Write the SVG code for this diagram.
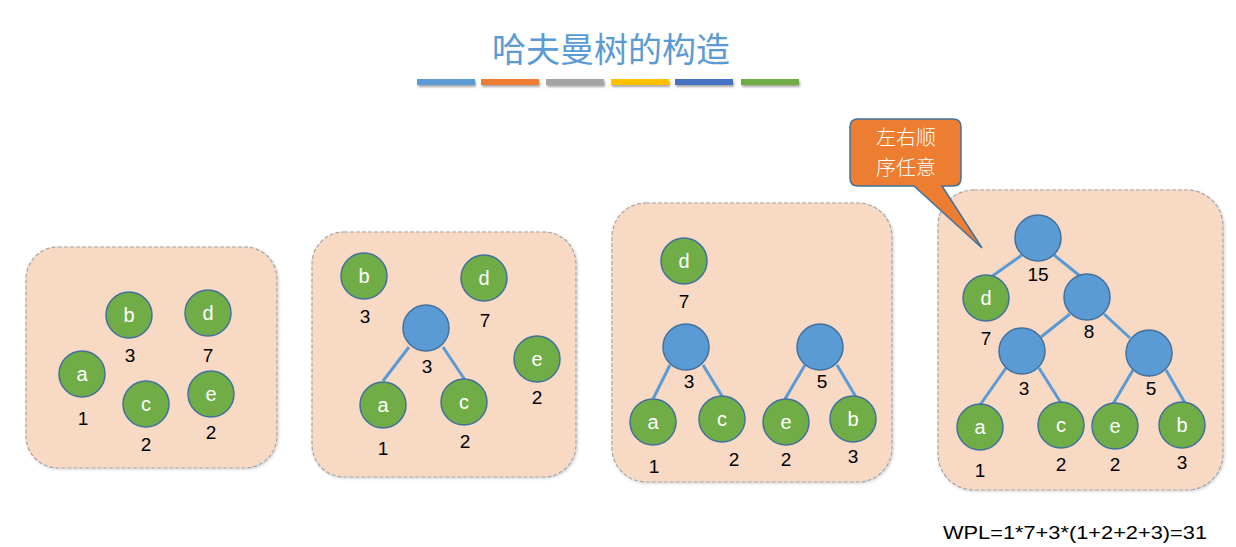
<svg xmlns="http://www.w3.org/2000/svg" width="1236" height="547" viewBox="0 0 1236 547">
<defs>
<filter id="sh" x="-10%" y="-50%" width="120%" height="250%"><feDropShadow dx="1" dy="2" stdDeviation="1.2" flood-color="#000" flood-opacity="0.35"/></filter>
<filter id="psh" x="-5%" y="-5%" width="110%" height="110%"><feDropShadow dx="1" dy="1" stdDeviation="1.5" flood-color="#000" flood-opacity="0.2"/></filter>
</defs>
<style>
.panel{fill:#F8D9C4;stroke:#A6A6A6;stroke-width:1.2;stroke-dasharray:4 2}
.g{fill:#70AD47;stroke:#41719C;stroke-width:1.5}
.b{fill:#5B9BD5;stroke:#41719C;stroke-width:1.5}
.lt{font-family:"Liberation Sans",Arial,sans-serif;font-size:20px;fill:#fff;text-anchor:middle;dominant-baseline:central}
.w{font-family:"Liberation Sans",Arial,sans-serif;font-size:19px;fill:#000;text-anchor:middle;dominant-baseline:central}
.e line{stroke:#5B9BD5;stroke-width:3}
.cj{font-family:"Noto Sans CJK SC",sans-serif;font-size:20px;font-weight:300;fill:#fff;text-anchor:middle}
</style>
<rect width="1236" height="547" fill="#fff"/>
<g id="title">
<text x="611" y="47" font-family="'Noto Sans CJK SC',sans-serif" font-size="34" fill="#5B9BD5" text-anchor="middle" dominant-baseline="central">哈夫曼树的构造</text>
<g filter="url(#sh)">
<rect x="417" y="79" width="58" height="6" fill="#5B9BD5"/>
<rect x="481" y="79" width="58" height="6" fill="#ED7D31"/>
<rect x="546" y="79" width="58" height="6" fill="#A5A5A5"/>
<rect x="611" y="79" width="58" height="6" fill="#FFC000"/>
<rect x="675" y="79" width="58" height="6" fill="#4472C4"/>
<rect x="741" y="79" width="58" height="6" fill="#70AD47"/>
</g>
</g>
<g id="panels" filter="url(#psh)">
<rect class="panel" x="26" y="247" width="251" height="221" rx="32"/>
<rect class="panel" x="312" y="232" width="264" height="245" rx="32"/>
<rect class="panel" x="612" y="203" width="280" height="279" rx="34"/>
<rect class="panel" x="938" y="190" width="285" height="300" rx="36"/>
</g>
<g id="callout">
<path d="M858,119 H953 Q961,119 961,127 V178 Q961,186 953,186 H942 L982,248 L914,186 H858 Q850,186 850,178 V127 Q850,119 858,119 Z" fill="#ED7D31" stroke="#41719C" stroke-width="1.5"/>
<text class="cj" x="906" y="145">左右顺</text>
<text class="cj" x="906" y="175">序任意</text>
</g>
<g id="connectors" class="e">
<line x1="409" y1="347" x2="383" y2="381"/>
<line x1="443" y1="347" x2="465" y2="380"/>
<line x1="670" y1="365" x2="653" y2="399"/>
<line x1="703" y1="365" x2="722" y2="396"/>
<line x1="805" y1="365" x2="785" y2="399"/>
<line x1="837" y1="365" x2="856" y2="397"/>
<line x1="1022" y1="255" x2="991" y2="277"/>
<line x1="1054" y1="255" x2="1080" y2="276"/>
<line x1="1070" y1="314" x2="1041" y2="337"/>
<line x1="1104" y1="314" x2="1130" y2="338"/>
<line x1="1006" y1="368" x2="980" y2="405"/>
<line x1="1039" y1="368" x2="1061" y2="403"/>
<line x1="1133" y1="370" x2="1113" y2="404"/>
<line x1="1166" y1="370" x2="1185" y2="403"/>
</g>
<!-- panel 1 -->
<g id="p1-b"><circle class="g" cx="129" cy="315" r="23"/><text class="lt" x="129" y="315">b</text><text class="w" x="130" y="355">3</text></g>
<g id="p1-d"><circle class="g" cx="208" cy="313" r="23"/><text class="lt" x="208" y="313">d</text><text class="w" x="208" y="355">7</text></g>
<g id="p1-a"><circle class="g" cx="82" cy="374" r="23"/><text class="lt" x="82" y="374">a</text><text class="w" x="83" y="418">1</text></g>
<g id="p1-c"><circle class="g" cx="146" cy="404" r="23"/><text class="lt" x="146" y="404">c</text><text class="w" x="146" y="444">2</text></g>
<g id="p1-e"><circle class="g" cx="211" cy="394" r="23"/><text class="lt" x="211" y="394">e</text><text class="w" x="211" y="432">2</text></g>
<!-- panel 2 -->
<g id="p2-b"><circle class="g" cx="364" cy="276" r="23"/><text class="lt" x="364" y="276">b</text><text class="w" x="365" y="316">3</text></g>
<g id="p2-d"><circle class="g" cx="484" cy="278" r="23"/><text class="lt" x="484" y="278">d</text><text class="w" x="485" y="320">7</text></g>
<g id="p2-n3"><circle class="b" cx="426" cy="328" r="23"/><text class="w" x="427" y="366">3</text></g>
<g id="p2-a"><circle class="g" cx="383" cy="405" r="23"/><text class="lt" x="383" y="405">a</text><text class="w" x="383" y="448">1</text></g>
<g id="p2-c"><circle class="g" cx="464" cy="402" r="23"/><text class="lt" x="464" y="402">c</text><text class="w" x="465" y="441">2</text></g>
<g id="p2-e"><circle class="g" cx="537" cy="359" r="23"/><text class="lt" x="537" y="359">e</text><text class="w" x="537" y="397">2</text></g>
<!-- panel 3 -->
<g id="p3-d"><circle class="g" cx="684" cy="261" r="23"/><text class="lt" x="684" y="261">d</text><text class="w" x="684" y="301">7</text></g>
<g id="p3-n3"><circle class="b" cx="686" cy="347" r="23"/><text class="w" x="689" y="381">3</text></g>
<g id="p3-n5"><circle class="b" cx="820" cy="347" r="23"/><text class="w" x="822" y="381">5</text></g>
<g id="p3-a"><circle class="g" cx="653" cy="422" r="23"/><text class="lt" x="653" y="422">a</text><text class="w" x="654" y="466">1</text></g>
<g id="p3-c"><circle class="g" cx="722" cy="419" r="23"/><text class="lt" x="722" y="419">c</text><text class="w" x="734" y="459">2</text></g>
<g id="p3-e"><circle class="g" cx="786" cy="422" r="23"/><text class="lt" x="786" y="422">e</text><text class="w" x="786" y="459">2</text></g>
<g id="p3-b"><circle class="g" cx="853" cy="419" r="23"/><text class="lt" x="853" y="419">b</text><text class="w" x="853" y="456">3</text></g>
<!-- panel 4 -->
<g id="p4-n15"><circle class="b" cx="1038" cy="238" r="23"/><text class="w" x="1038" y="274">15</text></g>
<g id="p4-d"><circle class="g" cx="986" cy="298" r="23"/><text class="lt" x="986" y="298">d</text><text class="w" x="986" y="338">7</text></g>
<g id="p4-n8"><circle class="b" cx="1087" cy="297" r="23"/><text class="w" x="1089" y="331">8</text></g>
<g id="p4-n3"><circle class="b" cx="1022" cy="351" r="23"/><text class="w" x="1024" y="388">3</text></g>
<g id="p4-n5"><circle class="b" cx="1149" cy="353" r="23"/><text class="w" x="1151" y="388">5</text></g>
<g id="p4-a"><circle class="g" cx="980" cy="427" r="23"/><text class="lt" x="980" y="427">a</text><text class="w" x="980" y="470">1</text></g>
<g id="p4-c"><circle class="g" cx="1061" cy="425" r="23"/><text class="lt" x="1061" y="425">c</text><text class="w" x="1061" y="464">2</text></g>
<g id="p4-e"><circle class="g" cx="1115" cy="426" r="23"/><text class="lt" x="1115" y="426">e</text><text class="w" x="1115" y="464">2</text></g>
<g id="p4-b"><circle class="g" cx="1182" cy="425" r="23"/><text class="lt" x="1182" y="425">b</text><text class="w" x="1182" y="462">3</text></g>
<g id="wpl"><text x="943" y="539" font-family="'Liberation Sans',Arial,sans-serif" font-size="19" fill="#000" textLength="264" lengthAdjust="spacingAndGlyphs">WPL=1*7+3*(1+2+2+3)=31</text></g>
</svg>
